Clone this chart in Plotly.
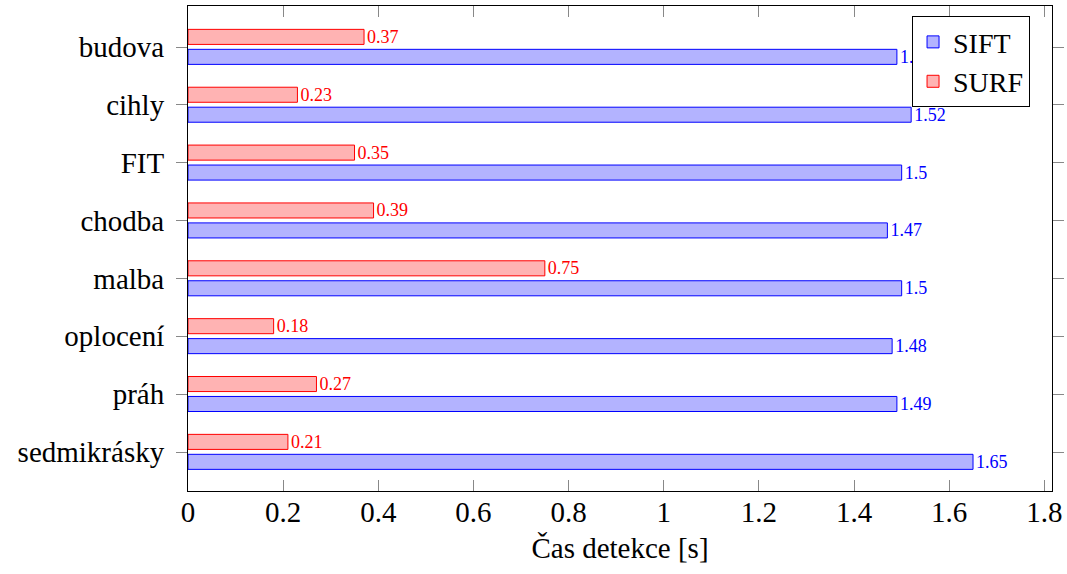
import plotly.graph_objects as go

categories = ["budova", "cihly", "FIT", "chodba", "malba", "oplocení", "práh", "sedmikrásky"]
sift_values = [1.49, 1.52, 1.5, 1.47, 1.5, 1.48, 1.49, 1.65]
surf_values = [0.37, 0.23, 0.35, 0.39, 0.75, 0.18, 0.27, 0.21]
x_ticks = [0, 0.2, 0.4, 0.6, 0.8, 1.0, 1.2, 1.4, 1.6, 1.8]
x_tick_labels = ["0", "0.2", "0.4", "0.6", "0.8", "1", "1.2", "1.4", "1.6", "1.8"]

FONT = "Liberation Serif"

def fmt(v):
    s = f"{v:.2f}".rstrip("0").rstrip(".")
    return s

fig = go.Figure()
fig.add_trace(go.Bar(
    name="SIFT", orientation="h", y=categories, x=sift_values,
    offset=0.04, width=0.26,
    marker=dict(color="#b3b3ff", line=dict(color="#0000ff", width=1)),
    text=[fmt(v) for v in sift_values], textposition="outside",
    textfont=dict(color="#0000ff", size=18, family=FONT),
    constraintext="none", cliponaxis=False, textangle=0,
))
fig.add_trace(go.Bar(
    name="SURF", orientation="h", y=categories, x=surf_values,
    offset=-0.305, width=0.26,
    marker=dict(color="#ffb3b3", line=dict(color="#ff0000", width=1)),
    text=[fmt(v) for v in surf_values], textposition="outside",
    textfont=dict(color="#ff0000", size=18, family=FONT),
    constraintext="none", cliponaxis=False, textangle=0,
))

fig.update_layout(
    width=1067, height=574,
    margin=dict(l=188, r=15, t=6, b=83),
    paper_bgcolor="white", plot_bgcolor="white",
    font=dict(family=FONT, size=29, color="black"),
    barmode="group",
    showlegend=True,
    legend=dict(
        x=0.838, y=0.979, xanchor="left", yanchor="top",
        bordercolor="black", borderwidth=1, bgcolor="white",
        font=dict(size=28, family=FONT), traceorder="normal",
        tracegroupgap=0, itemwidth=30,
    ),
    xaxis=dict(
        range=[0, 1.816], tickvals=x_ticks, ticktext=x_tick_labels,
        showgrid=False, zeroline=False, showline=True, linecolor="black", linewidth=1,
        mirror="ticks", ticks="inside", ticklen=11, tickcolor="#888888",
        automargin=False, ticklabelstandoff=-5,
        title=dict(text="Čas detekce [s]", standoff=10, font=dict(size=29)),
    ),
    yaxis=dict(
        type="category", categoryorder="array", categoryarray=categories,
        range=[7.674, -0.709], automargin=False,
        showgrid=False, zeroline=False, showline=True, linecolor="black", linewidth=1,
        mirror="ticks", ticks="outside", ticklen=11, tickcolor="#888888",
        ticklabelstandoff=6,
    ),
)

fig.write_html(
    "out.html",
    config={"displayModeBar": False},
    post_script="document.body.style.margin='0';document.body.style.overflow='hidden';",
)
